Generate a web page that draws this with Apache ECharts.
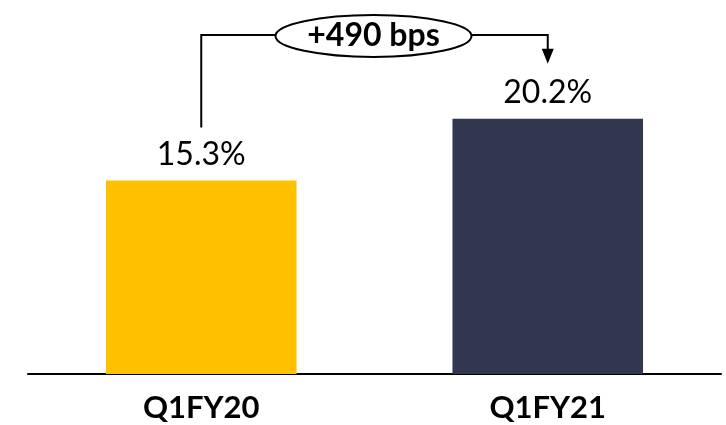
<!DOCTYPE html>
<html><head><meta charset="utf-8">
<script src="https://cdn.jsdelivr.net/npm/echarts@6/dist/echarts.min.js"></script>
<style>html,body{margin:0;padding:0;background:#fff}#c{width:726px;height:425px}</style>
</head><body><div id="c"></div>
<script>
const categories = ['Q1FY20', 'Q1FY21'];
const values = [15.3, 20.2];
const barColors = ['#FFC000', '#323750'];
const changeLabel = '+490 bps';

const chart = echarts.init(document.getElementById('c'), null, {renderer: 'canvas'});
const font = 'Lato, "Open Sans", sans-serif';
chart.setOption({
  animation: false,
  grid: {left: 28, right: 5, top: 58, bottom: 51},
  xAxis: {
    type: 'category', data: categories,
    axisLine: {lineStyle: {color: '#000', width: 2}},
    axisTick: {show: false},
    axisLabel: {color: '#000', fontSize: 31, fontWeight: 'bold', fontFamily: font, margin: 18}
  },
  yAxis: {type: 'value', min: 0, max: 25, show: false, splitLine: {show: false}},
  series: [{
    type: 'bar', barWidth: '55%',
    data: values.map((v, i) => ({value: v, itemStyle: {color: barColors[i]}})),
    label: {show: true, position: 'top', distance: 10, color: '#000', fontSize: 32, fontFamily: font,
      formatter: p => p.value.toFixed(1) + '%'}
  }]
});

const p1 = chart.convertToPixel({xAxisIndex: 0, yAxisIndex: 0}, [0, values[0]]);
const p2 = chart.convertToPixel({xAxisIndex: 0, yAxisIndex: 0}, [1, values[1]]);
const yTop = 35;
const cx = (p1[0] + p2[0]) / 2 - 1;
const rx = 98, ry = 21;
const ls = {stroke: '#000', lineWidth: 2};
chart.setOption({
  graphic: [
    {type: 'polyline', shape: {points: [[p1[0], p1[1] - 53], [p1[0], yTop], [cx - rx, yTop]]}, style: Object.assign({fill: null}, ls)},
    {type: 'polyline', shape: {points: [[cx + rx, yTop], [p2[0], yTop], [p2[0], p2[1] - 66]]}, style: Object.assign({fill: null}, ls)},
    {type: 'polygon', shape: {points: [[p2[0] - 6, p2[1] - 70], [p2[0] + 6, p2[1] - 70], [p2[0], p2[1] - 55]]}, style: {fill: '#000'}},
    {type: 'ellipse', shape: {cx: cx, cy: yTop + 1, rx: rx, ry: ry}, style: {fill: '#fff', stroke: '#000', lineWidth: 2}},
    {type: 'text', x: cx, y: yTop + 1, style: {text: changeLabel, fill: '#000', font: 'bold 32px ' + font, align: 'center', verticalAlign: 'middle'}}
  ]
});
</script></body></html>
